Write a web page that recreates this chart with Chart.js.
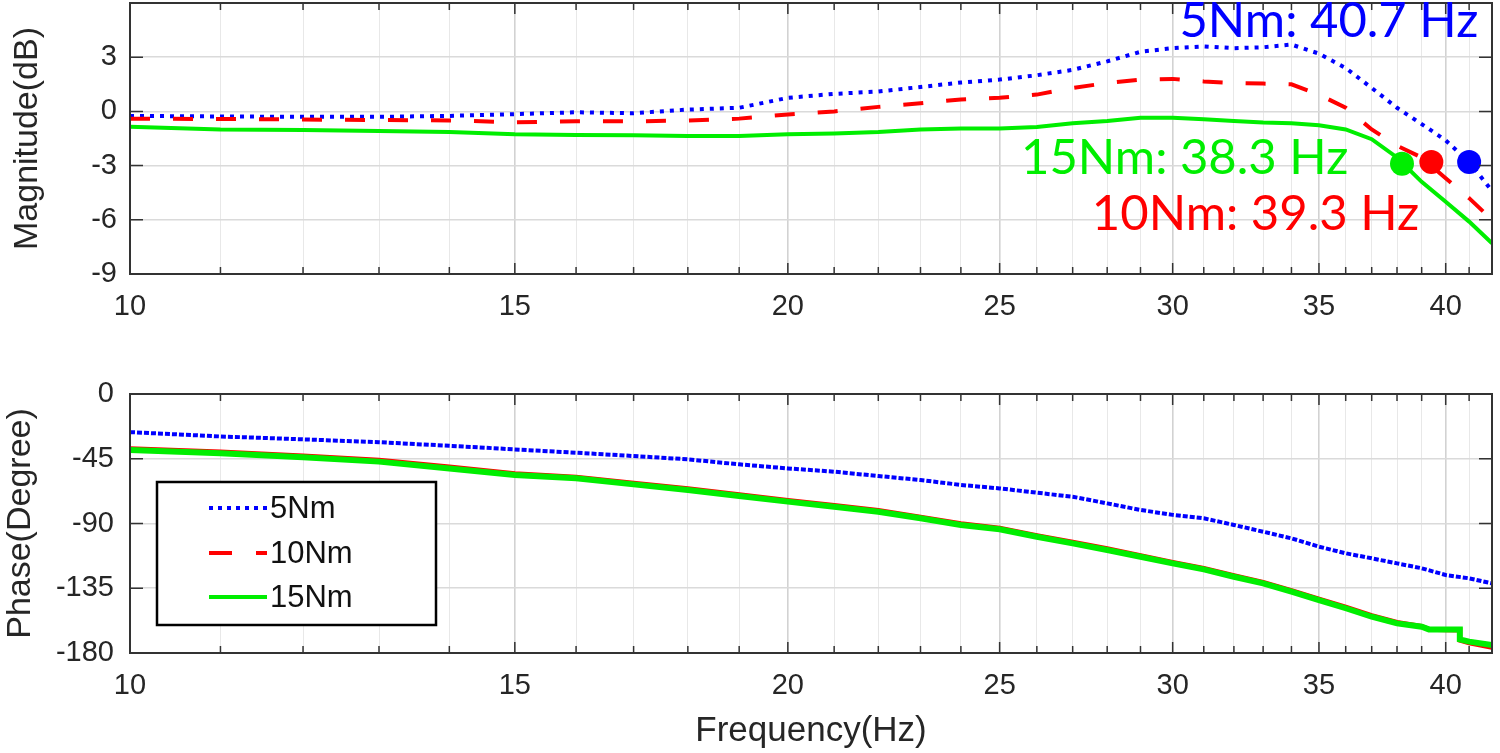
<!DOCTYPE html>
<html>
<head>
<meta charset="utf-8">
<script src="https://cdn.jsdelivr.net/npm/chart.js@4.4.1/dist/chart.umd.min.js"></script>
<style>
  body { margin: 0; background: #fff; width: 1500px; height: 753px; overflow: hidden; position: relative; }
  canvas { position: absolute; left: 0; }
  #magChart { top: 0; }
  #phaseChart { top: 340px; }
</style>
</head>
<body>
<canvas id="magChart" width="1500" height="340"></canvas>
<canvas id="phaseChart" width="1500" height="413"></canvas>
<script>
// frequency grid (Hz) for magnitude and 5Nm phase
var freq = [10,11,12,13,14,15,16,17,18,19,20,21,22,23,24,25,26,27,28,29,30,31,32,33,34,35,36,37,38,39,40,41,42];

// magnitude (dB)
var mag5  = [-0.25,-0.28,-0.3,-0.3,-0.25,-0.15,-0.05,-0.1,0.1,0.2,0.75,0.97,1.1,1.35,1.6,1.76,2.0,2.3,2.77,3.3,3.5,3.6,3.5,3.55,3.7,3.2,2.4,1.3,0.2,-0.7,-1.6,-2.8,-4.4];
var mag10 = [-0.4,-0.42,-0.45,-0.48,-0.5,-0.6,-0.55,-0.55,-0.5,-0.4,-0.17,0.0,0.25,0.45,0.66,0.75,0.93,1.3,1.57,1.76,1.8,1.66,1.57,1.54,1.5,0.93,0.2,-1.0,-1.9,-2.55,-3.7,-4.8,-6.0];
var mag15 = [-0.85,-1.0,-1.03,-1.08,-1.14,-1.27,-1.3,-1.32,-1.36,-1.36,-1.27,-1.23,-1.14,-1.0,-0.95,-0.95,-0.86,-0.66,-0.53,-0.35,-0.35,-0.44,-0.53,-0.62,-0.66,-0.77,-1.0,-1.54,-2.55,-3.9,-5.0,-6.1,-7.3];

// phase (degree)
var phase5 = [-26.5,-29.5,-31.5,-33.5,-36,-38.5,-40.8,-43.1,-45.4,-48.9,-51.7,-54.0,-57.0,-59.8,-63.2,-65.6,-68.6,-71.4,-76.0,-80.6,-84.0,-86.4,-91.0,-95.7,-100.3,-106.1,-110.7,-114.2,-117.7,-121.1,-125.8,-128.1,-131.6];
var phaseFreq = [10,11,12,13,14,15,16,17,18,19,20,21,22,23,24,25,26,27,28,29,30,31,32,33,34,35,36,37,38,39,39.3,40,40.6,40.6,41,42];
var phase10 = [-38.0,-40.3,-43.1,-46.1,-50.8,-55.4,-57.8,-62.0,-65.8,-70.0,-74.0,-77.5,-81.0,-85.6,-90.2,-93.2,-98.4,-103.0,-107.6,-112.3,-117.0,-121.2,-126.3,-130.9,-136.7,-142.5,-148.2,-154.0,-158.8,-161.5,-163.5,-163.8,-164.0,-171.0,-173.0,-176.0];
var phase15 = [-38.9,-41.2,-44.0,-47.0,-51.7,-56.3,-58.6,-62.8,-66.7,-70.9,-74.8,-78.3,-81.8,-86.4,-91.0,-94.0,-99.2,-103.8,-108.4,-113.1,-117.7,-121.9,-127.0,-131.6,-137.4,-143.2,-148.9,-154.8,-159.4,-161.7,-163.6,-163.6,-163.6,-170.5,-172.1,-174.5];

// -3 dB crossing markers
var cutFreq = [41.0, 39.4, 38.2];
var cutMag = [-2.8, -2.8, -2.9];
var cutLabels = ['5Nm: 40.7 Hz', '10Nm: 39.3 Hz', '15Nm: 38.3 Hz'];

var seriesNames = ['5Nm', '10Nm', '15Nm'];
var xTicks = [10,11,12,13,14,15,16,17,18,19,20,21,22,23,24,25,26,27,28,29,30,31,32,33,34,35,36,37,38,39,40,41,42];
var magTicks = [-9, -6, -3, 0, 3, 6];
var phaseTicks = [-180, -135, -90, -45, 0];

var BLUE = '#0000ff', RED = '#ff0000', GREEN = '#00ee00';
var colors = [BLUE, RED, GREEN];
var FONT = '"Liberation Sans", Arial, sans-serif';
var TXT = '#262626';

function pts(xs, ys) {
  return ys.map(function(v, i){ return {x: xs[i], y: v}; });
}

function freqAxis(height, showTitle) {
  return {
    type: 'logarithmic', min: 10, max: 42,
    afterBuildTicks: function(s){ s.ticks = xTicks.map(function(v){ return {value: v}; }); },
    afterFit: function(s){ s.height = height; s.paddingLeft = 0; s.paddingRight = 0; },
    ticks: {
      autoSkip: false, maxRotation: 0, padding: 16, color: TXT,
      font: {family: FONT, size: 29},
      callback: function(v){ return v % 5 === 0 ? String(v) : ''; }
    },
    grid: {
      drawTicks: false,
      color: function(c){ return c.tick && c.tick.value % 5 === 0 ? '#d2d2d2' : '#e8e8e8'; },
      lineWidth: function(c){ return c.tick && c.tick.value % 5 === 0 ? 1.6 : 1; }
    },
    border: {display: false},
    title: {
      display: showTitle, text: 'Frequency(Hz)', color: TXT,
      font: {family: FONT, size: 35}, padding: {top: 0, bottom: 1}
    }
  };
}

function valueAxis(min, max, tickList, title, titlePad, tickPad) {
  return {
    type: 'linear', min: min, max: max,
    afterBuildTicks: function(s){ s.ticks = tickList.map(function(v){ return {value: v}; }); },
    afterFit: function(s){ s.width = 130; s.paddingTop = 0; s.paddingBottom = 0; },
    ticks: {
      padding: tickPad, color: TXT, font: {family: FONT, size: 29},
      callback: function(v){ return v === 6 ? '' : String(v); }
    },
    grid: {drawTicks: false, color: '#dadada', lineWidth: 1.6},
    border: {display: false},
    title: {
      display: true, text: title, color: TXT,
      font: {family: FONT, size: 34}, padding: {top: titlePad, bottom: 0}
    }
  };
}

// box around the axes with inward tick marks
var frame = {
  id: 'frame',
  afterDatasetsDraw: function(chart) {
    var ctx = chart.ctx, a = chart.chartArea, xs = chart.scales.x, ys = chart.scales.y;
    ctx.save();
    ctx.strokeStyle = '#333';
    ctx.lineWidth = 1.5;
    ctx.beginPath();
    xTicks.forEach(function(v){
      var x = xs.getPixelForValue(v);
      var len = v % 5 === 0 ? 11 : 7;
      ctx.moveTo(x, a.bottom); ctx.lineTo(x, a.bottom - len);
      ctx.moveTo(x, a.top); ctx.lineTo(x, a.top + len);
    });
    ys.ticks.forEach(function(t){
      var y = ys.getPixelForValue(t.value);
      ctx.moveTo(a.left, y); ctx.lineTo(a.left + 13, y);
      ctx.moveTo(a.right, y); ctx.lineTo(a.right - 13, y);
    });
    ctx.stroke();
    ctx.lineWidth = 2;
    ctx.strokeRect(a.left, a.top, a.right - a.left, a.bottom - a.top);
    ctx.restore();
  }
};

// crossing frequency texts in the magnitude plot
var cutText = {
  id: 'cutText',
  afterDraw: function(chart) {
    var ctx = chart.ctx, xs = chart.scales.x, ys = chart.scales.y;
    var spots = [[41.4, 4.12], [38.9, -6.56], [36.1, -3.46]];
    ctx.save();
    ctx.font = '49px Lato, "Noto Sans", sans-serif';
    ctx.textAlign = 'right';
    ctx.textBaseline = 'alphabetic';
    cutLabels.forEach(function(t, i){
      ctx.fillStyle = colors[i];
      ctx.fillText(t, xs.getPixelForValue(spots[i][0]), ys.getPixelForValue(spots[i][1]));
    });
    ctx.restore();
  }
};

// legend box inside the phase plot
var legendBox = {
  id: 'legendBox',
  afterDraw: function(chart) {
    var ctx = chart.ctx, a = chart.chartArea;
    var bx = a.left + 27, by = a.top + 88, bw = 279, bh = 143;
    var rows = [26, 71, 115];
    var dashes = [[4, 5], [23, 24], []];
    ctx.save();
    ctx.fillStyle = '#fff';
    ctx.fillRect(bx, by, bw, bh);
    ctx.strokeStyle = '#000';
    ctx.lineWidth = 2.5;
    ctx.strokeRect(bx, by, bw, bh);
    seriesNames.forEach(function(n, i){
      var y = by + rows[i];
      ctx.strokeStyle = colors[i];
      ctx.lineWidth = 4;
      ctx.setLineDash(dashes[i]);
      ctx.beginPath();
      ctx.moveTo(bx + 52, y); ctx.lineTo(bx + 110, y);
      ctx.stroke();
      ctx.setLineDash([]);
      ctx.fillStyle = '#111';
      ctx.font = '31px ' + FONT;
      ctx.textAlign = 'left';
      ctx.textBaseline = 'middle';
      ctx.fillText(n, bx + 113, y + 1);
    });
    ctx.restore();
  }
};

new Chart(document.getElementById('magChart'), {
  type: 'line',
  data: {
    datasets: [
      {
        label: 'cut', type: 'scatter', data: pts(cutFreq, cutMag), order: 0,
        pointRadius: 12, pointBackgroundColor: colors, pointBorderWidth: 0, showLine: false
      },
      {label: '15Nm', data: pts(freq, mag15), borderColor: GREEN, borderWidth: 4, pointRadius: 0, order: 1},
      {label: '10Nm', data: pts(freq, mag10), borderColor: RED, borderWidth: 4, borderDash: [20, 23], pointRadius: 0, order: 2},
      {label: '5Nm', data: pts(freq, mag5), borderColor: BLUE, borderWidth: 4, borderDash: [4, 6], pointRadius: 0, order: 3}
    ]
  },
  options: {
    responsive: false, animation: false,
    layout: {autoPadding: false, padding: {top: 3, right: 8, left: 0, bottom: 0}},
    plugins: {legend: {display: false}, tooltip: {enabled: false}},
    scales: {
      x: freqAxis(66, false),
      y: valueAxis(-9, 6, magTicks, 'Magnitude(dB)', 7, 13)
    }
  },
  plugins: [frame, cutText]
});

new Chart(document.getElementById('phaseChart'), {
  type: 'line',
  data: {
    datasets: [
      {label: '15Nm', data: pts(phaseFreq, phase15), borderColor: GREEN, borderWidth: 6, pointRadius: 0, order: 1},
      {label: '10Nm', data: pts(phaseFreq, phase10), borderColor: RED, borderWidth: 5, pointRadius: 0, order: 2},
      {label: '5Nm', data: pts(freq, phase5), borderColor: BLUE, borderWidth: 4, borderDash: [5, 2], pointRadius: 0, order: 3}
    ]
  },
  options: {
    responsive: false, animation: false,
    layout: {autoPadding: false, padding: {top: 54, right: 8, left: 0, bottom: 0}},
    plugins: {legend: {display: false}, tooltip: {enabled: false}},
    scales: {
      x: freqAxis(100, true),
      y: valueAxis(-180, 0, phaseTicks, 'Phase(Degree)', 0, 16)
    }
  },
  plugins: [frame, legendBox]
});
</script>
</body>
</html>
